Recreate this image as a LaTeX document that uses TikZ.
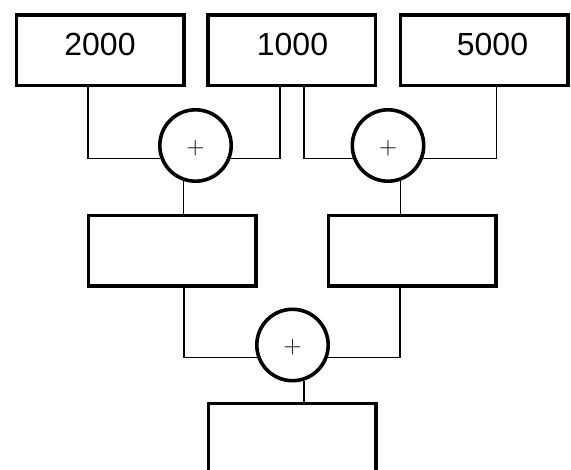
\documentclass[tikz,border=0pt]{standalone}
\usepackage{fontspec}
\newfontfamily\numfont{Liberation Sans}
\begin{document}
\begin{tikzpicture}[x=1pt,y=-1pt,
  box/.style={draw, line width=3.6pt, minimum width=167.4pt, minimum height=70.4pt, inner sep=0pt},
  sum/.style={draw, circle, line width=3.6pt, minimum size=71.4pt, inner sep=0pt},
  num/.style={inner sep=0pt, font=\numfont\fontsize{32}{32}\selectfont},
  plus/.style={inner sep=0pt, font=\fontsize{26}{26}\selectfont},
  conn/.style={line width=1.3pt}]
\useasboundingbox (0,0) rectangle (571,470);
% boxes
\node[box] (b1) at (100.2,50.3) {};
\node[box] (b2) at (291.9,50.3) {};
\node[box] (b3) at (484,50.3) {};
\node[box] (bA) at (172.2,250.8) {};
\node[box] (bB) at (412.2,250.8) {};
\node[box] (bC) at (292.2,438.7) {};
% labels
\node[num] (t1) at (100,44) {2000};
\node[num] (t2) at (292.5,44) {1000};
\node[num] (t3) at (492.5,44) {5000};
% sums
\node[sum] (c1) at (195.5,145.5) {};
\node[sum] (c2) at (388,145.5) {};
\node[sum] (c3) at (292.5,345) {};
\node[plus] (p1) at (195.3,148) {$+$};
\node[plus] (p2) at (388,148) {$+$};
\node[plus] (p3) at (292.5,347.5) {$+$};
% junction columns
\coordinate (x1) at (88,0);
\coordinate (x2) at (280,0);
\coordinate (x3) at (304,0);
\coordinate (x4) at (496.7,0);
\coordinate (xA) at (184,0);
\coordinate (xB) at (400,0);
% connectors
\draw[conn] (b1.south -| x1) |- (c1.200);
\draw[conn] (b2.south -| x2) |- (c1.340);
\draw[conn] (b2.south -| x3) |- (c2.200);
\draw[conn] (b3.south -| x4) |- (c2.340);
\draw[conn] (c1.251) -- (c1.251 |- bA.north);
\draw[conn] (c2.289.5) -- (c2.289.5 |- bB.north);
\draw[conn] (bA.south -| xA) |- (c3.199.5);
\draw[conn] (bB.south -| xB) |- (c3.340.5);
\draw[conn] (c3.288.6) -- (c3.288.6 |- bC.north);
\end{tikzpicture}
\end{document}
